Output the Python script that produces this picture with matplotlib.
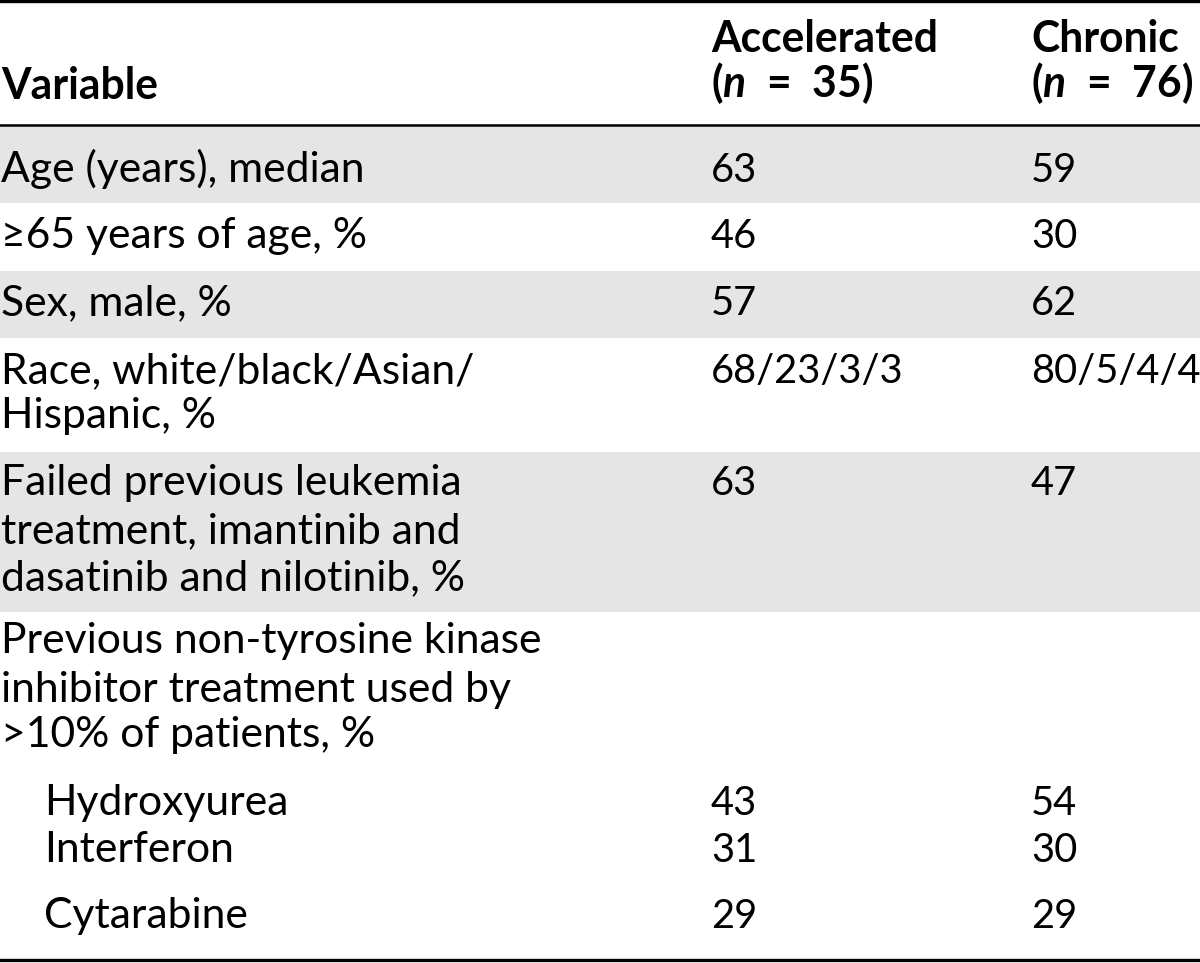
import matplotlib
matplotlib.use("Agg")
import matplotlib.pyplot as plt
from matplotlib.patches import Rectangle

# ---------------- data ----------------
col_headers = [["Accelerated", r"($\mathbfit{n}$  =  35)"],
               ["Chronic", r"($\mathbfit{n}$  =  76)"]]
var_header = "Variable"
labels = [
    ["Age (years), median"],
    ["\u226565 years of age, %"],
    ["Sex, male, %"],
    ["Race, white/black/Asian/", "Hispanic, %"],
    ["Failed previous leukemia", "treatment, imantinib and", "dasatinib and nilotinib, %"],
    ["Previous non-tyrosine kinase", "inhibitor treatment used by", ">10% of patients, %"],
    ["Hydroxyurea"],
    ["Interferon"],
    ["Cytarabine"],
]
accelerated = ["63", "46", "57", "68/23/3/3", "63", "", "43", "31", "29"]
chronic = ["59", "30", "62", "80/5/4/4", "47", "", "54", "30", "29"]
indented = [False, False, False, False, False, False, True, True, True]

# ---------------- layout (pixels) ----------------
W, H = 1200, 963
FAM = ["Lato", "DejaVu Sans"]
plt.rcParams["font.family"] = FAM
plt.rcParams["mathtext.fontset"] = "custom"
plt.rcParams["mathtext.rm"] = "Lato"
plt.rcParams["mathtext.bf"] = "Lato:bold"
plt.rcParams["mathtext.bfit"] = "Lato:italic:bold"
plt.rcParams["mathtext.it"] = "Lato:italic"

fig = plt.figure(figsize=(W / 100, H / 100), dpi=100)
ax = fig.add_axes([0, 0, 1, 1])
ax.set_xlim(0, W)
ax.set_ylim(H, 0)
ax.axis("off")

# fit font sizes so that reference strings have the reference widths
fig.canvas.draw()
r = fig.canvas.get_renderer()


def fit(s, target):
    t = ax.text(0, 0, s, fontsize=20)
    w = t.get_window_extent(r).width
    t.remove()
    return 20 * target / w


FS = fit(labels[0][0], 365.0)
FSV = fit(accelerated[3], 192.0)

row_spans = [(127, 203), (203, 271), (271, 338), (338, 452), (452, 612), (612, 958)]
gray_rows = [0, 2, 4]
for i in gray_rows:
    y0, y1 = row_spans[i]
    ax.add_patch(Rectangle((0, y0), W, y1 - y0, facecolor="#e5e5e5", edgecolor="none"))

baselines = [[182], [248], [315], [383, 428], [495, 543, 590],
             [653, 702, 747], [815], [862], [928]]
x_label, x_indent, x_c1, x_c2 = 1, 44, 711, 1031

# header
ax.text(x_label, 99, var_header, fontsize=FS, fontweight="bold", va="baseline", ha="left")
for xc, hdr in zip([x_c1, x_c2], col_headers):
    ax.text(xc, 52, hdr[0], fontsize=FS, fontweight="bold", va="baseline", ha="left")
    ax.text(xc, 97, hdr[1], fontsize=FS, fontweight="bold", va="baseline", ha="left")

for lab, a, c, ind, bl in zip(labels, accelerated, chronic, indented, baselines):
    x0 = x_indent if ind else x_label
    for line, y in zip(lab, bl):
        ax.text(x0, y, line, fontsize=FS, va="baseline", ha="left")
    ax.text(x_c1, bl[0], a, fontsize=FSV, va="baseline", ha="left")
    ax.text(x_c2, bl[0], c, fontsize=FSV, va="baseline", ha="left")

# rules
ax.axhline(1.5, color="black", linewidth=2.4)
ax.axhline(125.5, color="black", linewidth=1.8)
ax.axhline(960.5, color="black", linewidth=2.4)

fig.savefig("out.png", dpi=100)
